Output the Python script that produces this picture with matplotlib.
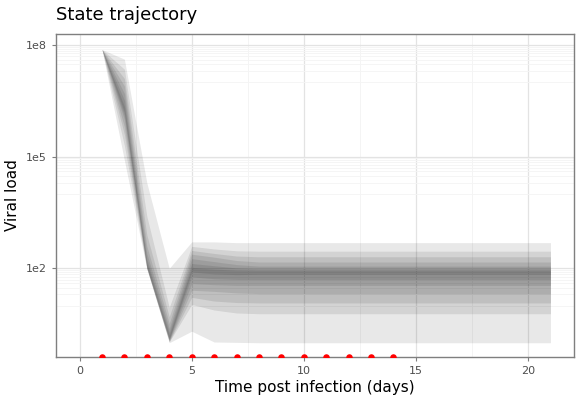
import numpy as np
import matplotlib
matplotlib.use("Agg")
import matplotlib.pyplot as plt

# days of the simulated trajectory
days = list(range(1, 22))

# log10 viral load quantile edges, outer band -> inner band
# upper edges
up1 = [7.88, 7.62, 4.30, 2.00, 2.71, 2.71, 2.69, 2.69, 2.69, 2.69, 2.69, 2.69, 2.69, 2.69, 2.69, 2.69, 2.69, 2.69, 2.69, 2.69, 2.69]
up2 = [7.88, 7.35, 3.40, 0.95, 2.59, 2.52, 2.47, 2.46, 2.46, 2.46, 2.46, 2.46, 2.46, 2.46, 2.46, 2.46, 2.46, 2.46, 2.46, 2.46, 2.46]
up3 = [7.88, 7.10, 2.90, 0.70, 2.48, 2.40, 2.33, 2.31, 2.31, 2.31, 2.31, 2.31, 2.31, 2.31, 2.31, 2.31, 2.31, 2.31, 2.31, 2.31, 2.31]
up4 = [7.88, 6.90, 2.60, 0.52, 2.38, 2.30, 2.21, 2.17, 2.17, 2.17, 2.17, 2.17, 2.17, 2.17, 2.17, 2.17, 2.17, 2.17, 2.17, 2.17, 2.17]
up5 = [7.88, 6.70, 2.40, 0.38, 2.26, 2.18, 2.10, 2.06, 2.06, 2.06, 2.06, 2.06, 2.06, 2.06, 2.06, 2.06, 2.06, 2.06, 2.06, 2.06, 2.06]
up6 = [7.88, 6.52, 2.25, 0.28, 2.13, 2.07, 2.01, 1.99, 1.99, 1.99, 1.99, 1.99, 1.99, 1.99, 1.99, 1.99, 1.99, 1.99, 1.99, 1.99, 1.99]
up7 = [7.88, 6.35, 2.15, 0.20, 2.02, 1.98, 1.95, 1.94, 1.94, 1.94, 1.94, 1.94, 1.94, 1.94, 1.94, 1.94, 1.94, 1.94, 1.94, 1.94, 1.94]
# lower edges
lo1 = [7.88, 4.90, 1.98, 0.00, 0.31, 0.02, 0.01, 0.00, 0.00, 0.00, 0.00, 0.00, 0.00, 0.00, 0.00, 0.00, 0.00, 0.00, 0.00, 0.00, 0.00]
lo2 = [7.88, 5.30, 2.00, 0.02, 1.03, 0.88, 0.80, 0.78, 0.78, 0.78, 0.78, 0.78, 0.78, 0.78, 0.78, 0.78, 0.78, 0.78, 0.78, 0.78, 0.78]
lo3 = [7.88, 5.60, 2.00, 0.03, 1.22, 1.12, 1.08, 1.07, 1.07, 1.07, 1.07, 1.07, 1.07, 1.07, 1.07, 1.07, 1.07, 1.07, 1.07, 1.07, 1.07]
lo4 = [7.88, 5.80, 2.00, 0.04, 1.41, 1.38, 1.34, 1.32, 1.32, 1.32, 1.32, 1.32, 1.32, 1.32, 1.32, 1.32, 1.32, 1.32, 1.32, 1.32, 1.32]
lo5 = [7.88, 6.00, 2.01, 0.06, 1.59, 1.56, 1.54, 1.54, 1.54, 1.54, 1.54, 1.54, 1.54, 1.54, 1.54, 1.54, 1.54, 1.54, 1.54, 1.54, 1.54]
lo6 = [7.88, 6.10, 2.02, 0.08, 1.77, 1.72, 1.70, 1.70, 1.70, 1.70, 1.70, 1.70, 1.70, 1.70, 1.70, 1.70, 1.70, 1.70, 1.70, 1.70, 1.70]
lo7 = [7.88, 6.20, 2.03, 0.10, 1.90, 1.85, 1.83, 1.84, 1.84, 1.84, 1.84, 1.84, 1.84, 1.84, 1.84, 1.84, 1.84, 1.84, 1.84, 1.84, 1.84]

# observation days (observed load below the axis -> drawn at the bottom)
obs_days = [1, 2, 3, 4, 5, 6, 7, 8, 9, 10, 11, 12, 13, 14]

lowers = [lo1, lo2, lo3, lo4, lo5, lo6, lo7]
uppers = [up1, up2, up3, up4, up5, up6, up7]

ymin = 10 ** -0.383
ymax = 10 ** 8.296

fig = plt.figure(figsize=(5.8, 4.09), dpi=100)
ax = fig.add_axes([56/580, 1-357/409, (574-56)/580, (357-34)/409])

# grid
for xv in [0, 5, 10, 15, 20]:
    ax.axvline(xv, color='#e3e3e3', lw=0.9, zorder=0)
for xv in [2.5, 7.5, 12.5, 17.5]:
    ax.axvline(xv, color='#f3f3f3', lw=0.6, zorder=0)
for e in [2, 5, 8]:
    ax.axhline(10 ** e, color='#e3e3e3', lw=0.9, zorder=0)
    for k in range(1, 10):
        ax.axhline(k * 10 ** (e - 1), color='#f4f4f4', lw=0.6, zorder=0)

for lo, up in zip(lowers, uppers):
    ax.fill_between(days, 10 ** np.array(lo), 10 ** np.array(up),
                    color='black', alpha=0.09, lw=0, zorder=1)

ax.scatter(obs_days, [ymin] * len(obs_days), s=22, color='red', lw=0, zorder=3, clip_on=True)

ax.set_yscale('log')
ax.set_ylim(ymin, ymax)
ax.set_xlim(-1.05, 22.05)
ax.set_xticks([0, 5, 10, 15, 20])
ax.set_yticks([1e2, 1e5, 1e8])
ax.set_yticklabels(['1e2', '1e5', '1e8'])
ax.yaxis.set_minor_locator(matplotlib.ticker.NullLocator())
ax.tick_params(axis='both', colors='#7f7f7f', labelcolor='#4d4d4d', labelsize=8, length=3, width=0.8)

for sp in ax.spines.values():
    sp.set_color('#7f7f7f')
    sp.set_linewidth(1.0)

ax.set_xlabel('Time post infection (days)', fontsize=11, labelpad=3)
ax.set_ylabel('Viral load', fontsize=11, labelpad=4)
fig.text(56/580, 1-15/409, 'State trajectory', fontsize=13, ha='left', va='center')

fig.savefig('out.png', dpi=100)
